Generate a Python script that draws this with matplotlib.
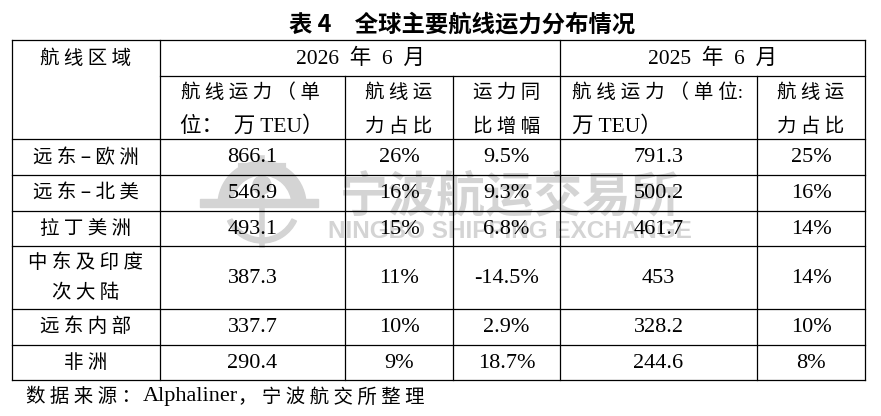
import matplotlib
matplotlib.use("Agg")
import matplotlib.pyplot as plt
from matplotlib.patches import Wedge, Rectangle, Circle

# ---------------- data ----------------
title = "表 4　全球主要航线运力分布情况"
source_a = "数据来源："
source_b = "Alphaliner"
source_c = "，宁波航交所整理"
regions = ["远东–欧洲", "远东–北美", "拉丁美洲", "中东及印度\n次大陆", "远东内部", "非洲"]
cap_2026 = [866.1, 546.9, 493.1, 387.3, 337.7, 290.4]
share_2026 = [26, 16, 15, 11, 10, 9]
yoy_2026 = [9.5, 9.3, 6.8, -14.5, 2.9, 18.7]
cap_2025 = [791.3, 500.2, 461.7, 453, 328.2, 244.6]
share_2025 = [25, 16, 14, 14, 10, 8]
period_labels = ["2026 年 6 月", "2025 年 6 月"]
col_header = "航线区域"

# ---------------- layout ----------------
W, H = 881, 416
fig = plt.figure(figsize=(W / 100, H / 100), dpi=100)
ax = fig.add_axes([0, 0, 1, 1])
ax.set_xlim(0, W)
ax.set_ylim(H, 0)
ax.axis("off")

xs = [12, 160, 345, 453, 560, 757, 865]
ys = [40, 76, 139, 175, 211, 246, 309, 345, 380]

CJK = "Noto Sans CJK SC"
MIX = ["Liberation Serif", "Noto Sans CJK SC"]
LW = 0.9
wm = "#d4d4d4"

# ---------------- watermark ----------------
ax.add_patch(Wedge((262, 205), 44, 180, 360, width=14, color=wm, zorder=0))
ax.add_patch(Wedge((262, 205), 38, 25, 155, width=5, color=wm, zorder=0))
ax.add_patch(Rectangle((200, 199), 118, 8, color=wm, zorder=0))
ax.add_patch(Circle((262, 185), 9, color=wm, zorder=0))
ax.plot([262, 262], [158, 245], color=wm, lw=4, zorder=0)
ax.plot([240, 284], [165, 165], color=wm, lw=3, zorder=0)
ax.text(510, 197, "宁波航运交易所", family=CJK, weight="bold", fontsize=35,
        color=wm, ha="center", va="center", zorder=0)
ax.text(510, 232, "NINGBO SHIPPING EXCHANGE", family="Liberation Sans", weight="bold",
        fontsize=17.5, color=wm, ha="center", va="center", zorder=0)

# ---------------- grid lines ----------------
def hline(y, x0, x1):
    ax.plot([x0, x1], [y, y], color="black", lw=LW, solid_capstyle="projecting", zorder=3)

def vline(x, y0, y1):
    ax.plot([x, x], [y0, y1], color="black", lw=LW, solid_capstyle="projecting", zorder=3)

hline(ys[0], xs[0], xs[-1])
hline(ys[1], xs[1], xs[-1])
for y in ys[2:]:
    hline(y, xs[0], xs[-1])
vline(xs[0], ys[0], ys[-1])
vline(xs[1], ys[0], ys[-1])
vline(xs[4], ys[0], ys[-1])
vline(xs[-1], ys[0], ys[-1])
for x in (xs[2], xs[3], xs[5]):
    vline(x, ys[1], ys[-1])

def spaced(s):
    out = ""
    for i, ch in enumerate(s):
        out += ch
        if i < len(s) - 1 and ch != " " and s[i + 1] != " ":
            out += " "
    return out

# ---------------- title & source ----------------
ax.text(462, 24, title, family=CJK, weight="bold", fontsize=16.8,
        ha="center", va="center")
t1 = ax.text(26, 397, spaced(source_a), family=CJK, fontsize=14, ha="left", va="center")
fig.canvas.draw()
r = fig.canvas.get_renderer()
bb = t1.get_window_extent(r)
x_b = ax.transData.inverted().transform((bb.x1, 0))[0] + 2
t2 = ax.text(x_b, 397, source_b, family="Liberation Serif", fontsize=16, ha="left", va="center")
bb2 = t2.get_window_extent(r)
x_c = ax.transData.inverted().transform((bb2.x1, 0))[0]
ax.text(x_c, 397, spaced(source_c), family=CJK, fontsize=14, ha="left", va="center")

# ---------------- header ----------------
def cx(i):
    return (xs[i] + xs[i + 1]) / 2

ax.text(cx(0), 59, spaced(col_header), family=CJK, fontsize=14, ha="center", va="center")
ax.text((xs[1] + xs[4]) / 2, 59, period_labels[0].replace(" ", "  "), family=MIX,
        fontsize=15.5, ha="center", va="center")
ax.text((xs[4] + xs[6]) / 2, 59, period_labels[1].replace(" ", "  "), family=MIX,
        fontsize=15.5, ha="center", va="center")

l1, l2 = 93, 126
ax.text(181, l1, spaced("航线运力（单"), family=CJK, fontsize=14, ha="left", va="center")
ax.text(180, l2, "位：  万 TEU）", family=MIX, fontsize=15.5, ha="left", va="center")
ax.text(cx(2), l1, spaced("航线运"), family=CJK, fontsize=14, ha="center", va="center")
ax.text(cx(2), l2, spaced("力占比"), family=CJK, fontsize=14, ha="center", va="center")
ax.text(cx(3), l1, spaced("运力同"), family=CJK, fontsize=14, ha="center", va="center")
ax.text(cx(3), l2, spaced("比增幅"), family=CJK, fontsize=14, ha="center", va="center")
ax.text(572, l1, spaced("航线运力（单位") + ":", family=MIX, fontsize=14, ha="left", va="center")
ax.text(572, l2, "万 TEU）", family=MIX, fontsize=15.5, ha="left", va="center")
ax.text(cx(5), l1, spaced("航线运"), family=CJK, fontsize=14, ha="center", va="center")
ax.text(cx(5), l2, spaced("力占比"), family=CJK, fontsize=14, ha="center", va="center")

# ---------------- body ----------------
def fmt(v):
    return f"{v:g}"

for i in range(len(regions)):
    yc = (ys[i + 2] + ys[i + 3]) / 2
    name = regions[i]
    if "\n" in name:
        a, b = name.split("\n")
        ax.text(cx(0), yc - 15, spaced(a), family=CJK, fontsize=14, ha="center", va="center")
        ax.text(cx(0), yc + 15, spaced(b), family=CJK, fontsize=14, ha="center", va="center")
    else:
        ax.text(cx(0), yc, spaced(name), family=CJK, fontsize=14, ha="center", va="center")
    vals = [fmt(cap_2026[i]), f"{share_2026[i]}%", f"{fmt(yoy_2026[i])}%",
            fmt(cap_2025[i]), f"{share_2025[i]}%"]
    for c, s in enumerate(vals):
        ax.text(cx(c + 1), yc + 1, s, family="Liberation Serif", fontsize=16,
                ha="center", va="center", zorder=4)

fig.savefig("out.png", dpi=100, facecolor="white")
